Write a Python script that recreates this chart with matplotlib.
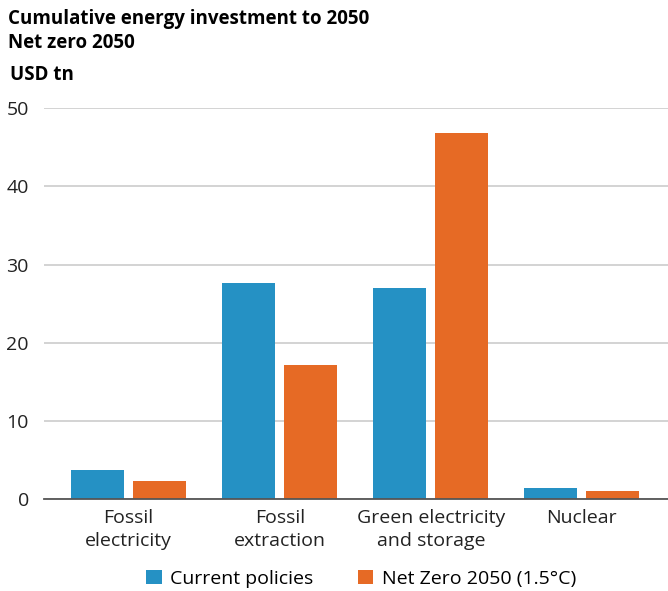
import matplotlib.pyplot as plt
import numpy as np

categories = ['Fossil\nelectricity', 'Fossil\nextraction', 'Green electricity\nand storage', 'Nuclear']
current_policies = [3.8, 27.6, 27.0, 1.5]
net_zero = [2.4, 17.2, 46.8, 1.1]
series_names = ['Current policies', 'Net Zero 2050 (1.5°C)']
yticks = [0, 10, 20, 30, 40, 50]

BLUE = '#2591c4'
ORANGE = '#e66a25'

plt.rcParams['font.family'] = ['Open Sans', 'DejaVu Sans']

fig = plt.figure(figsize=(6.68, 5.91), dpi=100)
ax = fig.add_axes([0.066, 0.155, 0.934, 0.662])

x = np.arange(len(categories))
w = 0.35
off = 0.205
ax.bar(x - off, current_policies, w, color=BLUE, label=series_names[0], zorder=3)
ax.bar(x + off, net_zero, w, color=ORANGE, label=series_names[1], zorder=3)

ax.set_xlim(-0.56, 3.57)
ax.set_ylim(0, 50)
ax.set_yticks(yticks)
ax.yaxis.grid(True, color='#cccccc', linewidth=1.2, zorder=0)
ax.set_axisbelow(True)
for s in ['top', 'right', 'left']:
    ax.spines[s].set_visible(False)
ax.spines['bottom'].set_color('#555555')
ax.spines['bottom'].set_linewidth(1.3)
ax.spines['bottom'].set_zorder(4)

ax.set_xticks(x)
ax.set_xticklabels(categories, fontsize=14, color='#222222', linespacing=1.38)
ax.tick_params(axis='x', length=0, pad=7)
ax.tick_params(axis='y', length=0, pad=11, labelsize=14, labelcolor='#222222')

fig.text(0.012, 0.985, 'Cumulative energy investment to 2050\nNet zero 2050',
         fontsize=13.5, fontweight='bold', va='top', ha='left', linespacing=1.25)
fig.text(0.015, 0.89, 'USD tn', fontsize=13.5, fontweight='bold', va='top', ha='left')

fig.legend(loc='lower center', bbox_to_anchor=(0.541, -0.024), ncol=2, frameon=False,
           fontsize=14, handlelength=0.78, handleheight=0.78, columnspacing=2.3,
           handletextpad=0.45)

fig.savefig('out.png', dpi=100)
